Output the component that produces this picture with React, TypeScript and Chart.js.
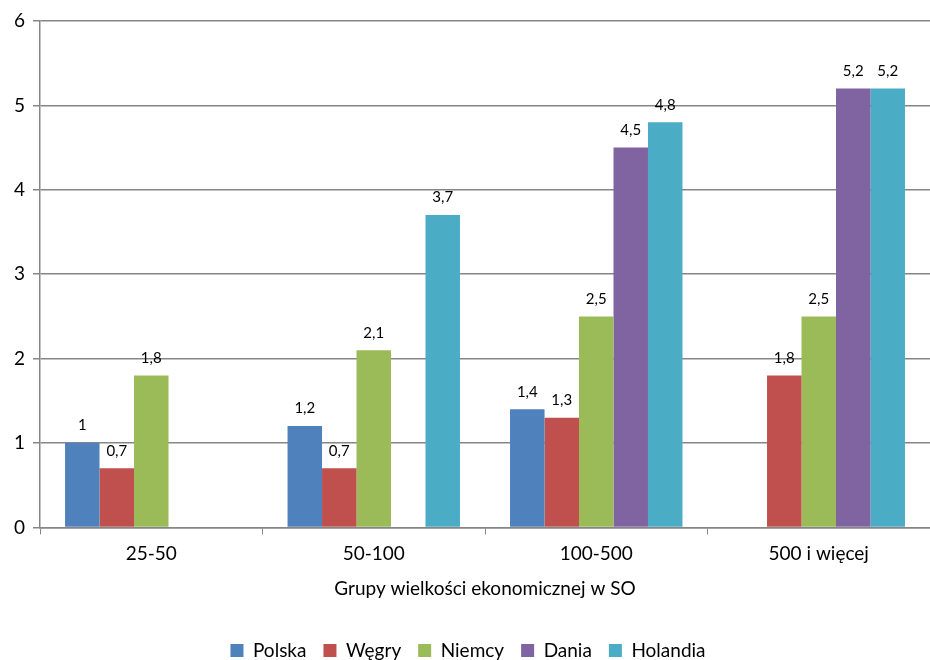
import React, { useEffect, useRef } from "react";
import { Chart, registerables } from "chart.js";

Chart.register(...registerables);

const categories = ["25-50", "50-100", "100-500", "500 i więcej"];
const polska = [1, 1.2, 1.4, null];
const wegry = [0.7, 0.7, 1.3, 1.8];
const niemcy = [1.8, 2.1, 2.5, 2.5];
const dania = [null, null, 4.5, 5.2];
const holandia = [null, 3.7, 4.8, 5.2];
const yTicks = [0, 1, 2, 3, 4, 5, 6];

const FONT = "Lato, 'Open Sans', sans-serif";

const labelPlugin = {
  id: "valueLabels",
  afterDatasetsDraw(chart: any) {
    const ctx = chart.ctx;
    ctx.save();
    ctx.font = `15px ${FONT}`;
    ctx.fillStyle = "#000";
    ctx.textAlign = "center";
    ctx.textBaseline = "bottom";
    chart.data.datasets.forEach((ds: any, i: number) => {
      const meta = chart.getDatasetMeta(i);
      meta.data.forEach((bar: any, j: number) => {
        const v = ds.data[j];
        if (v === null || v === undefined) return;
        ctx.fillText(String(v).replace(".", ","), bar.x, bar.y - 10);
      });
    });
    ctx.restore();
  },
};

export default function App() {
  const ref = useRef<HTMLCanvasElement>(null);
  useEffect(() => {
    document.body.style.margin = "0";
    const c = new Chart(ref.current!, {
      type: "bar",
      data: {
        labels: categories,
        datasets: [
          { label: "Polska", data: polska, backgroundColor: "#4F81BD" },
          { label: "Węgry", data: wegry, backgroundColor: "#C0504D" },
          { label: "Niemcy", data: niemcy, backgroundColor: "#9BBB59" },
          { label: "Dania", data: dania, backgroundColor: "#8064A2" },
          { label: "Holandia", data: holandia, backgroundColor: "#4BACC6" },
        ],
      },
      options: {
        animation: false,
        responsive: false,
        maintainAspectRatio: false,
        layout: { padding: { top: 21, right: 0, left: 6, bottom: -10 } },
        datasets: { bar: { categoryPercentage: 0.775, barPercentage: 1, skipNull: false } },
        plugins: {
          legend: {
            position: "bottom",
            labels: {
              font: { family: FONT, size: 19 },
              color: "#000",
              boxWidth: 13,
              boxHeight: 13,
              padding: 17,
            },
          },
          tooltip: { enabled: false },
        },
        scales: {
          x: {
            grid: {
              drawOnChartArea: false,
              color: "#868686",
              tickLength: 7,
              offset: true,
            },
            border: { color: "#868686", width: 1.5 },
            ticks: { font: { family: FONT, size: 19 }, color: "#000", padding: 8 },
            title: {
              display: true,
              text: "Grupy wielkości ekonomicznej w SO",
              font: { family: FONT, size: 19 },
              color: "#000",
              padding: { top: 4, bottom: 24 },
            },
          },
          y: {
            min: 0,
            max: 6,
            afterBuildTicks: (axis: any) => {
              axis.ticks = yTicks.map((v) => ({ value: v }));
            },
            grid: { color: "#868686", lineWidth: 1.5, tickLength: 7 },
            border: { color: "#868686", width: 1.5 },
            ticks: { font: { family: FONT, size: 19 }, color: "#000", padding: 8 },
          },
        },
      },
      plugins: [labelPlugin],
    });
    return () => c.destroy();
  }, []);
  return (
    <div style={{ position: "fixed", left: 0, top: 0, width: 930, height: 660 }}>
      <canvas ref={ref} width={930} height={660} />
    </div>
  );
}
